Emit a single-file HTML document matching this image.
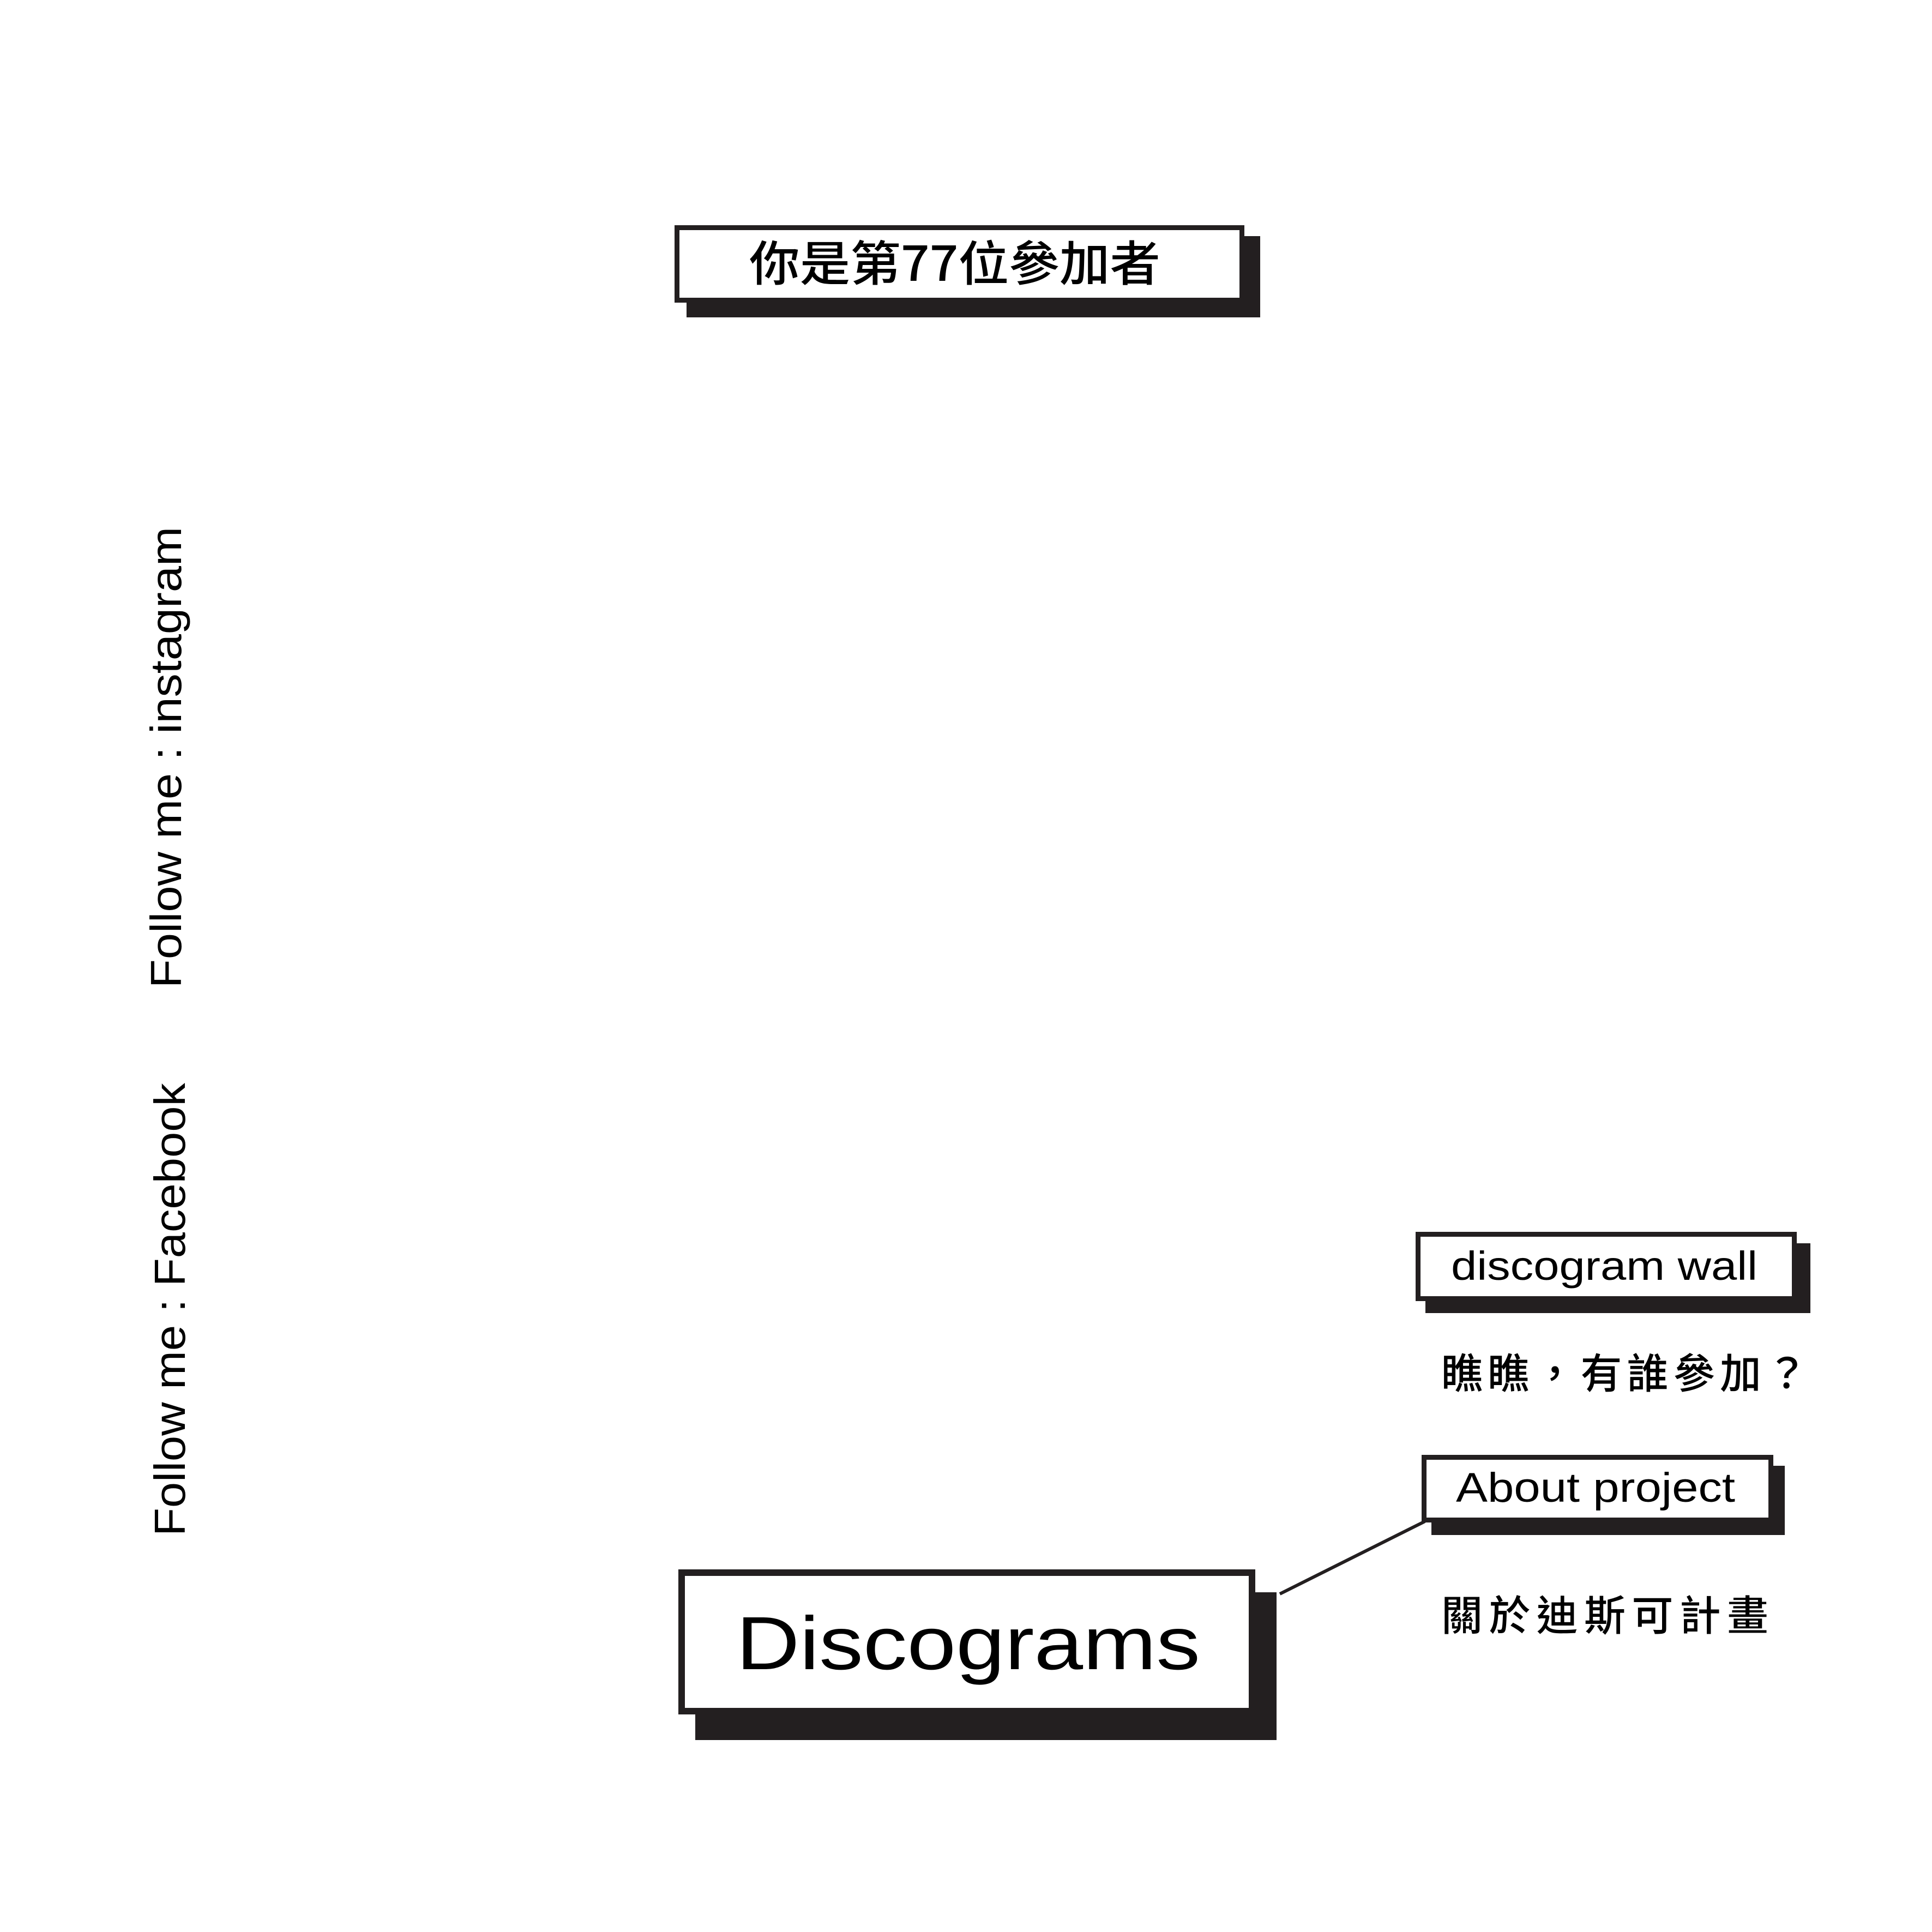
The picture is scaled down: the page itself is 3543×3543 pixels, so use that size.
<!DOCTYPE html>
<html><head><meta charset="utf-8">
<style>
html,body{margin:0;padding:0;background:#fff;}
svg{display:block;}
text{font-family:"Liberation Sans","Noto Sans CJK TC",sans-serif;fill:#000;}
.cjk{font-family:"Noto Sans CJK TC","Liberation Sans",sans-serif;}
</style></head>
<body>
<svg width="3543" height="3543" viewBox="0 0 3543 3543" xmlns="http://www.w3.org/2000/svg">
  <rect x="0" y="0" width="3543" height="3543" fill="#fff"/>

  <g>
    <rect x="1259" y="433" width="1052" height="149" fill="#231f20"/>
    <rect x="1241.5" y="417.5" width="1036" height="133" fill="#fff" stroke="#231f20" stroke-width="9"/>
    <text class="cjk" x="1374" y="515" font-size="88" font-weight="500" textLength="754" lengthAdjust="spacingAndGlyphs">你是第77位參加者</text>
  </g>

  <text x="0" y="0" transform="translate(332,1812) rotate(-90)" font-size="80" textLength="846" lengthAdjust="spacingAndGlyphs">Follow me : instagram</text>
  <text x="0" y="0" transform="translate(339,2817) rotate(-90)" font-size="80" textLength="831" lengthAdjust="spacingAndGlyphs">Follow me : Facebook</text>

  <g>
    <rect x="2614" y="2280" width="706" height="128" fill="#231f20"/>
    <rect x="2600.5" y="2263.5" width="690" height="118" fill="#fff" stroke="#231f20" stroke-width="9"/>
    <text x="2661" y="2347" font-size="74" textLength="562" lengthAdjust="spacingAndGlyphs">discogram wall</text>
  </g>
  <text class="cjk" x="2643" y="2546" font-size="76" font-weight="500" textLength="672" lengthAdjust="spacing">瞧瞧，有誰參加？</text>

  <g>
    <rect x="2625" y="2688" width="648" height="127" fill="#231f20"/>
    <rect x="2611.5" y="2672.5" width="636" height="115" fill="#fff" stroke="#231f20" stroke-width="9"/>
    <text x="2670" y="2754" font-size="76" textLength="512" lengthAdjust="spacingAndGlyphs">About project</text>
  </g>
  <text class="cjk" x="2643" y="2990" font-size="76" font-weight="500" textLength="600" lengthAdjust="spacing">關於迪斯可計畫</text>

  <line x1="2347" y1="2923" x2="2613" y2="2790" stroke="#231f20" stroke-width="6"/>

  <g>
    <rect x="1275" y="2920" width="1066" height="271" fill="#231f20"/>
    <rect x="1250" y="2884" width="1046" height="254" fill="#fff" stroke="#231f20" stroke-width="12"/>
    <text x="1350" y="3061" font-size="138" textLength="851" lengthAdjust="spacingAndGlyphs" fill="#231f20">Discograms</text>
  </g>
</svg>
</body></html>
